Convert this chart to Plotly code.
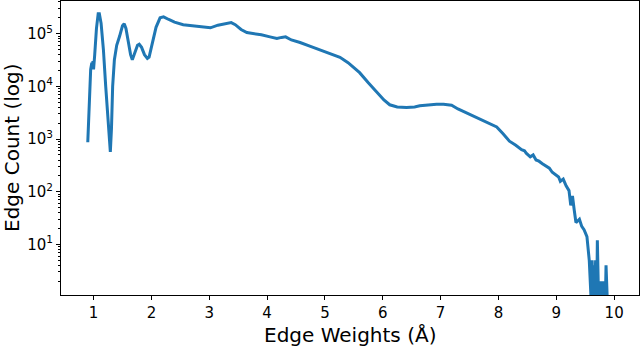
import plotly.graph_objects as go

# Edge weight (Å) vs edge count
edge_weights = [
    0.90, 0.92, 0.95, 0.97, 0.98, 0.99, 1.00, 1.02, 1.05, 1.08, 1.10, 1.13, 1.17, 1.21,
    1.25, 1.28, 1.29, 1.31, 1.33, 1.36, 1.40, 1.45, 1.50, 1.53, 1.56, 1.60, 1.64, 1.67,
    1.71, 1.76, 1.79, 1.83, 1.88, 1.93, 1.96, 2.02, 2.08, 2.15, 2.21, 2.30, 2.40, 2.55,
    2.70, 2.85, 3.02, 3.15, 3.28, 3.38, 3.45, 3.55, 3.65, 3.78, 3.90, 4.05, 4.17, 4.25,
    4.32, 4.42, 4.57, 4.75, 4.91, 5.05, 5.26, 5.40, 5.60, 5.75, 5.90, 6.02, 6.12, 6.25,
    6.41, 6.55, 6.64, 6.80, 6.93, 7.05, 7.19, 7.30, 7.38, 7.50, 7.67, 7.80, 7.97, 8.08,
    8.19, 8.30, 8.40, 8.45, 8.48, 8.55, 8.60, 8.65, 8.70, 8.76, 8.83, 8.88, 8.93, 9.00,
    9.04, 9.07, 9.12, 9.17, 9.22, 9.25, 9.28, 9.31, 9.34, 9.40, 9.44, 9.48, 9.53, 9.57,
    9.60, 9.62, 9.63, 9.65, 9.66, 9.68, 9.70, 9.71, 9.73, 9.75, 9.77, 9.79, 9.81, 9.83,
    9.85, 9.86, 9.88,
]
edge_counts = [
    870, 4000, 21000, 28000, 25000, 30000, 21000, 40000, 126000, 240000, 240000, 158000, 50000, 10000,
    2500, 700, 570, 1600, 10000, 32000, 60000, 89000, 141000, 155000, 126000, 71000, 40000, 32000,
    42000, 60000, 63000, 55000, 40000, 34000, 36000, 71000, 132000, 200000, 209000, 186000, 166000, 148000,
    141000, 135000, 129000, 145000, 155000, 162000, 148000, 120000, 105000, 100000, 95000, 87000, 81000, 85000,
    87000, 76000, 68000, 57500, 49000, 43600, 35500, 28200, 18200, 11700, 7800, 5500, 4470, 4070,
    3980, 4070, 4270, 4470, 4570, 4570, 4370, 3720, 3390, 2950, 2400, 2090, 1700, 1260,
    910, 760, 630, 600, 540, 460, 500, 400, 380, 340, 310, 280, 234, 209,
    190, 158, 174, 129, 105, 55, 83, 45, 26, 30, 22, 19, 14, 5,
    1, 5, 1, 4, 1, 5, 1, 12, 1, 2, 1, 2, 1, 2,
    1, 4, 1,
]

x_ticks = list(range(1, 11))
y_ticks = [10, 100, 1000, 10000, 100000]
y_tick_labels = ["10<sup>1</sup>", "10<sup>2</sup>", "10<sup>3</sup>", "10<sup>4</sup>", "10<sup>5</sup>"]

fig = go.Figure()
fig.add_trace(go.Scatter(
    x=edge_weights, y=edge_counts, mode="lines",
    line=dict(color="#1f77b4", width=3),
))

fig.update_layout(
    width=640, height=348,
    margin=dict(l=61, r=1, t=1, b=53),
    paper_bgcolor="white", plot_bgcolor="white",
    font=dict(family="DejaVu Sans", size=15, color="black"),
    showlegend=False,
)
fig.update_xaxes(
    range=[0.437, 10.43], tickvals=x_ticks,
    ticks="outside", ticklen=4, tickcolor="black",
    showgrid=False, zeroline=False, automargin=False,
    showline=True, linecolor="black", linewidth=1, mirror=True,
)
fig.update_yaxes(
    type="log", range=[0.04, 5.62], tickvals=y_ticks, ticktext=y_tick_labels,
    ticks="outside", ticklen=4, tickcolor="black",
    minor=dict(ticks="outside", ticklen=2, tickcolor="black", dtick="D1", showgrid=False),
    showgrid=False, zeroline=False, automargin=False,
    showline=True, linecolor="black", linewidth=1, mirror=True,
)

# axis titles placed as annotations so they sit where the reference has them
fig.add_annotation(text="Edge Weights (Å)", xref="paper", yref="paper",
                   x=0.5, y=0, yshift=-40, showarrow=False,
                   xanchor="center", yanchor="middle", font=dict(size=20))
fig.add_annotation(text="Edge Count (log)", xref="paper", yref="paper",
                   x=0, y=0.5, xshift=-49, textangle=-90, showarrow=False,
                   xanchor="center", yanchor="middle", font=dict(size=20))

# drop the page's default body margin so the figure sits at the window corner
fig.write_html("out.html", config={"displayModeBar": False},
               post_script="document.body.style.margin='0';")
